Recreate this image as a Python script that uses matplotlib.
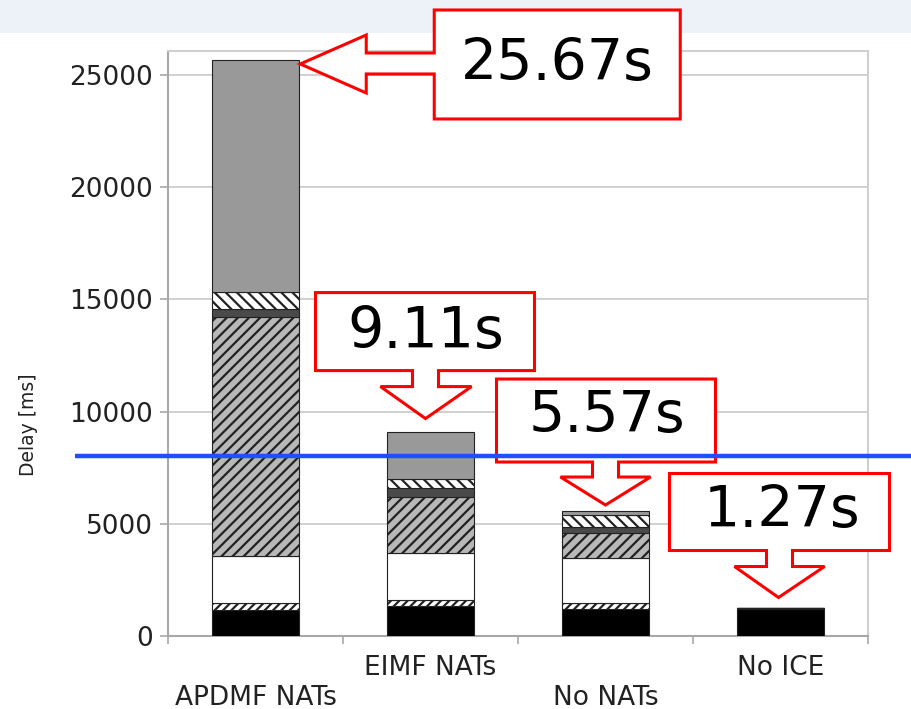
import matplotlib
matplotlib.use("Agg")
import matplotlib.pyplot as plt
from matplotlib.patches import Polygon, Rectangle
from matplotlib import transforms

# --- data -------------------------------------------------------------
categories = ["APDMF NATs", "EIMF NATs", "No NATs", "No ICE"]

# stacked delay components per scenario [ms], bottom to top
base_ms      = [1160, 1340, 1190, 1200]
exchange_ms  = [330, 270, 270, 70]
gather_ms    = [2090, 2080, 2030, 0]
checks_ms    = [10650, 2520, 1090, 0]
nominate_ms  = [330, 370, 290, 0]
update_ms    = [760, 420, 520, 0]
media_ms     = [10350, 2110, 180, 0]

yticks = [0, 5000, 10000, 15000, 20000, 25000]
threshold_ms = 8000

# --- figure -----------------------------------------------------------
W, H, DPI = 912, 709, 100
plt.rcParams["font.family"] = ["DejaVu Sans"]
plt.rcParams["hatch.linewidth"] = 1.6
fig = plt.figure(figsize=(W / DPI, H / DPI), dpi=DPI)
fig.patch.set_facecolor("white")

# pale header band along the top edge
fig.patches.append(Rectangle((0, 1 - 33 / H), 1, 33 / H, transform=fig.transFigure,
                             facecolor="#edf1f8", edgecolor="none", zorder=-5))

ax = fig.add_axes([168 / W, (H - 636) / H, 700 / W, 585 / H])
ax.set_xlim(-0.5, len(categories) - 0.5)
ax.set_ylim(0, 26070)

segments = [
    (base_ms,     dict(facecolor="#000000")),
    (exchange_ms, dict(facecolor="#ffffff", hatch="////")),
    (gather_ms,   dict(facecolor="#ffffff")),
    (checks_ms,   dict(facecolor="#b8b8b8", hatch="///")),
    (nominate_ms, dict(facecolor="#4a4a4a")),
    (update_ms,   dict(facecolor="#ffffff", hatch="\\\\\\")),
    (media_ms,    dict(facecolor="#999999")),
]

x = list(range(len(categories)))
bottom = [0] * len(categories)
for values, style in segments:
    ax.bar(x, values, width=0.5, bottom=bottom, edgecolor="#222222",
           linewidth=0.8, zorder=3, **style)
    bottom = [b + v for b, v in zip(bottom, values)]
totals = bottom

# axes styling
ax.set_yticks(yticks)
ax.set_yticklabels([str(v) for v in yticks])
ax.grid(axis="y", color="#c8c8c8", linewidth=1.2, zorder=0)
ax.set_axisbelow(True)
for side in ("left", "bottom"):
    ax.spines[side].set_color("#a8a8a8")
    ax.spines[side].set_linewidth(1.5)
for side in ("top", "right"):
    ax.spines[side].set_color("#cfcfcf")
    ax.spines[side].set_linewidth(1.5)
ax.tick_params(axis="y", length=6, width=1.2, color="#a8a8a8", pad=5,
               labelsize=19, labelcolor="#222222")

ax.set_xticks(x)
ax.set_xticklabels(categories)
ax.set_xticks([i - 0.5 for i in range(len(categories) + 1)], minor=True)
ax.tick_params(axis="x", which="major", length=0, labelsize=19, labelcolor="#222222")
ax.tick_params(axis="x", which="minor", length=6, width=1.2, color="#a8a8a8")
for i, tick in enumerate(ax.xaxis.get_major_ticks()):
    tick.set_pad(35 if i % 2 == 0 else 13.5)

ax.set_ylabel("Delay [ms]", fontsize=13.5, color="#222222")
ax.yaxis.set_label_coords(-0.186, 0.361)


# --- callouts ---------------------------------------------------------
def pixel_frame(xd, yd):
    """Offsets in pixels (y pointing down) from a data point."""
    return transforms.Affine2D().scale(1, -1) + transforms.ScaledTranslation(xd, yd, ax.transData)


def callout(xd, yd, outline, text_xy, label):
    tr = pixel_frame(xd, yd)
    ax.add_patch(Polygon(outline, closed=True, transform=tr, facecolor="white",
                         edgecolor="#ff0000", linewidth=2.2, zorder=6,
                         clip_on=False, joinstyle="miter"))
    ax.text(text_xy[0], text_xy[1], label, transform=tr, fontsize=41,
            ha="center", va="baseline", color="black", zorder=7, clip_on=False)


def down_callout(box, shaft, head, tip):
    (bx0, by0, bx1, by1), (sx0, sx1, sy1), (hx0, hx1) = box, shaft, head
    return [(bx0, by0), (bx1, by0), (bx1, by1), (sx1, by1), (sx1, sy1),
            (hx1, sy1), tip, (hx0, sy1), (sx0, sy1), (sx0, by1), (bx0, by1)]


labels = [f"{t / 1000:.2f}s" for t in totals]

# left-pointing callout at the top-right corner of the first bar
left_shape = [(1, 4), (67, -25), (67, -7), (135, -7), (135, -50), (381, -50),
              (381, 59), (135, 59), (135, 14), (67, 14), (67, 33)]
callout(0.25, totals[0], left_shape, (258, 20), labels[0])

callout(1, totals[1], down_callout((-115, -139, 104, -61), (-18, 8, -45), (-50, 41), (-5, -13)),
        (-5, -84), labels[1])
callout(2, totals[2], down_callout((-109, -132, 110, -49), (-13, 13, -34), (-45, 45), (0, -6)),
        (1, -79), labels[2])
callout(3, totals[3], down_callout((-111, -134, 109, -57), (-14, 12, -41), (-46, 44), (-2, -10)),
        (1, -81), labels[3])

# reference level drawn across the chart
blend = transforms.blended_transform_factory(ax.transAxes, ax.transData)
ax.plot([-0.133, 1.07], [threshold_ms, threshold_ms], transform=blend,
        color="#1f4fff", linewidth=3.2, zorder=8, clip_on=False, solid_capstyle="butt")

fig.savefig("out.png", dpi=DPI)
